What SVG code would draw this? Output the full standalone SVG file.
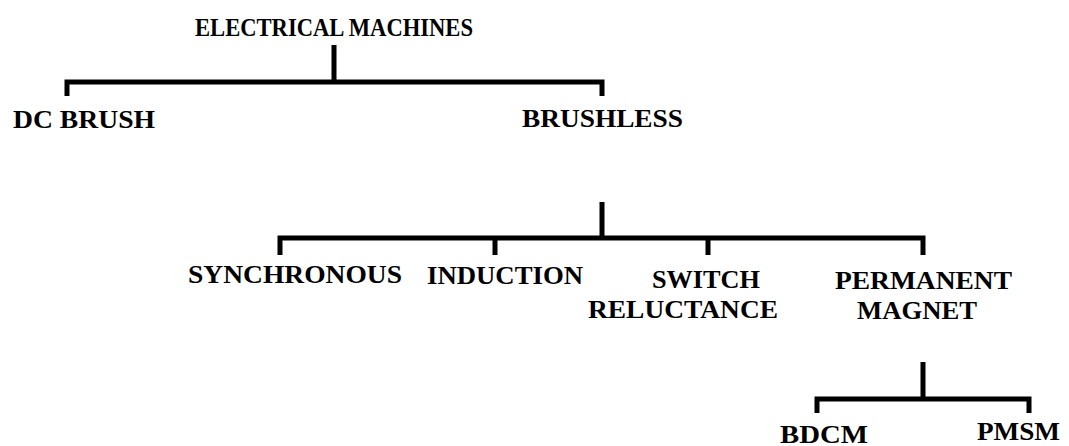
<svg xmlns="http://www.w3.org/2000/svg" width="1069" height="446" viewBox="0 0 1069 446">
<style>
.l{fill:none;stroke:#000;stroke-width:5;stroke-linejoin:miter;stroke-linecap:butt}
text{font-family:"Liberation Serif","Times New Roman",serif;font-weight:bold;font-size:26px;fill:#000}
</style>
<rect width="1069" height="446" fill="#fff"/>
<g id="connectors">
<path class="l" d="M334,45V82M67,96V82H602V96"/>
<path class="l" d="M602,202V238M280,255V238H923V255M495,238V255M708,238V255"/>
<path class="l" d="M923,362V399M817,413V399H1029V413"/>
</g>
<g id="n-electrical"><text x="195" y="36" textLength="278" lengthAdjust="spacingAndGlyphs">ELECTRICAL MACHINES</text></g>
<g id="n-dcbrush"><text x="13" y="128" textLength="142" lengthAdjust="spacingAndGlyphs">DC BRUSH</text></g>
<g id="n-brushless"><text x="522" y="127" textLength="161" lengthAdjust="spacingAndGlyphs">BRUSHLESS</text></g>
<g id="n-synchronous"><text x="188" y="283" textLength="214" lengthAdjust="spacingAndGlyphs">SYNCHRONOUS</text></g>
<g id="n-induction"><text x="427" y="284" textLength="156" lengthAdjust="spacingAndGlyphs">INDUCTION</text></g>
<g id="n-switch"><text x="652" y="288" textLength="108" lengthAdjust="spacingAndGlyphs">SWITCH</text><text x="588" y="318" textLength="190" lengthAdjust="spacingAndGlyphs">RELUCTANCE</text></g>
<g id="n-permanent"><text x="835" y="289" textLength="177" lengthAdjust="spacingAndGlyphs">PERMANENT</text><text x="857" y="319" textLength="120" lengthAdjust="spacingAndGlyphs">MAGNET</text></g>
<g id="n-bdcm"><text x="780" y="443" textLength="88" lengthAdjust="spacingAndGlyphs">BDCM</text></g>
<g id="n-pmsm"><text x="977" y="440" textLength="83" lengthAdjust="spacingAndGlyphs">PMSM</text></g>
</svg>
